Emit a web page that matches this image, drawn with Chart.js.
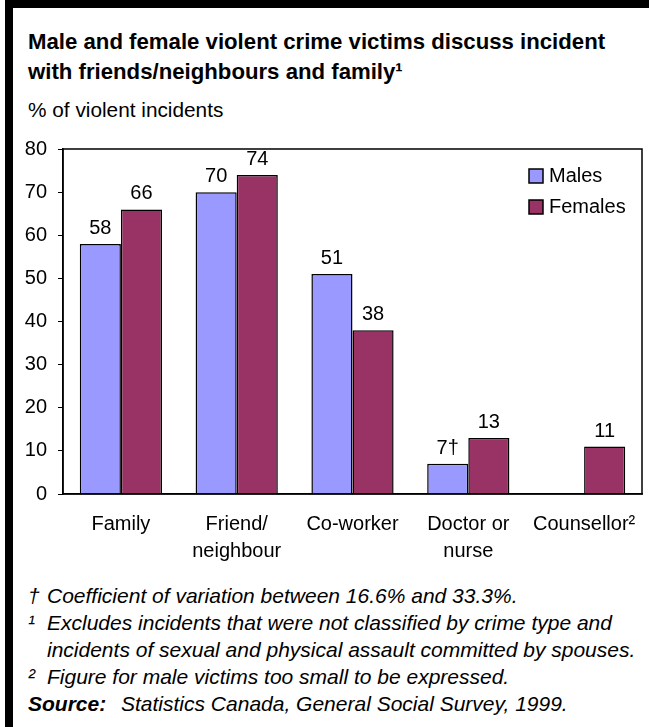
<!DOCTYPE html>
<html>
<head>
<meta charset="utf-8">
<script src="https://cdn.jsdelivr.net/npm/chart.js@4.4.1/dist/chart.umd.min.js"></script>
<style>
  body { margin: 0; background: #fff; font-family: "Liberation Sans", Arial, sans-serif; }
  #page { position: relative; width: 649px; height: 727px; overflow: hidden; }
  .bar-top { position: absolute; left: 5px; top: 0; width: 644px; height: 8px; background: #000; }
  .bar-left { position: absolute; left: 5px; top: 0; width: 8px; height: 727px; background: #000; }
  .title { position: absolute; left: 28px; top: 27px; font-weight: bold; font-size: 22.2px; line-height: 30px; color: #000; white-space: nowrap; }
  .subtitle { position: absolute; left: 28px; top: 98px; font-size: 20.8px; line-height: 24px; color: #000; }
  #wrap { position: absolute; left: 0; top: 126px; width: 649px; height: 444px; }
  .notes { position: absolute; left: 28px; top: 582px; font-size: 21px; font-style: italic; line-height: 27px; color: #000; }
  .notes div { white-space: nowrap; }
  .mark { display: inline-block; width: 19px; }
  .indent { padding-left: 19px; }
  .src { display: inline-block; width: 93px; }
</style>
</head>
<body>
<div id="page">
  <div class="bar-top"></div>
  <div class="bar-left"></div>
  <div class="title">Male and female violent crime victims discuss incident<br>with friends/neighbours and family¹</div>
  <div class="subtitle">% of violent incidents</div>
  <div id="wrap"><canvas id="barChart"></canvas></div>
  <div class="notes">
    <div><span class="mark">†</span>Coefficient of variation between 16.6% and 33.3%.</div>
    <div><span class="mark">¹</span>Excludes incidents that were not classified by crime type and</div>
    <div class="indent">incidents of sexual and physical assault committed by spouses.</div>
    <div><span class="mark">²</span>Figure for male victims too small to be expressed.</div>
    <div><b class="src">Source:</b>Statistics Canada, General Social Survey, 1999.</div>
  </div>
</div>

<script>
// ===== DATA =====
const categories = [['Family'], ['Friend/', 'neighbour'], ['Co-worker'], ['Doctor or', 'nurse'], ['Counsellor²']];
const males = [58, 70, 51, 7, null];
const females = [66, 74, 38, 13, 11];
const maleLabels = ['58', '70', '51', '7†', ''];
const femaleLabels = ['66', '74', '38', '13', '11'];
const yTicks = [0, 10, 20, 30, 40, 50, 60, 70, 80];

const COLORS = { males: '#9999ff', females: '#993366' };
const FONT = 'Liberation Sans, Arial, sans-serif';

// ===== PLUGINS =====
// frame around the plot area
const framePlugin = {
  id: 'frame',
  afterDatasetsDraw(chart) {
    const { ctx, chartArea: a } = chart;
    ctx.save();
    ctx.strokeStyle = '#000';
    ctx.lineWidth = 1.5;
    ctx.strokeRect(a.left, a.top, a.right - a.left, a.bottom - a.top);
    ctx.restore();
  }
};

// value labels above bars
const valueLabels = {
  id: 'valueLabels',
  afterDatasetsDraw(chart) {
    const { ctx } = chart;
    const texts = [maleLabels, femaleLabels];
    ctx.save();
    ctx.font = '20px ' + FONT;
    ctx.fillStyle = '#000';
    ctx.textAlign = 'center';
    ctx.textBaseline = 'alphabetic';
    chart.data.datasets.forEach((ds, di) => {
      chart.getDatasetMeta(di).data.forEach((bar, i) => {
        if (ds.data[i] == null) return;
        ctx.fillText(texts[di][i], bar.x, bar.y - 10);
      });
    });
    ctx.restore();
  }
};

// legend inside the plot, top right
const innerLegend = {
  id: 'innerLegend',
  afterDraw(chart) {
    const { ctx, chartArea: a } = chart;
    ctx.save();
    ctx.font = '20px ' + FONT;
    ctx.textBaseline = 'alphabetic';
    chart.data.datasets.forEach((ds, i) => {
      const x = a.right - 113;
      const y = a.top + 20 + i * 31;
      ctx.fillStyle = ds.backgroundColor;
      ctx.fillRect(x, y, 14, 14);
      ctx.strokeStyle = '#000';
      ctx.lineWidth = 1.5;
      ctx.strokeRect(x, y, 14, 14);
      ctx.fillStyle = '#000';
      ctx.fillText(ds.label, x + 20, y + 13);
    });
    ctx.restore();
  }
};

// ===== CHART =====
new Chart(document.getElementById('barChart'), {
  type: 'bar',
  data: {
    labels: categories,
    datasets: [
      { label: 'Males', data: males, backgroundColor: COLORS.males, borderColor: '#000', borderWidth: 1.5, borderSkipped: 'bottom' },
      { label: 'Females', data: females, backgroundColor: COLORS.females, borderColor: '#000', borderWidth: 1.5, borderSkipped: 'bottom' }
    ]
  },
  options: {
    responsive: true,
    maintainAspectRatio: false,
    animation: false,
    layout: { padding: { left: 0, right: 7, top: 15, bottom: 0 } },
    datasets: { bar: { categoryPercentage: 0.71, barPercentage: 1.0 } },
    plugins: { legend: { display: false }, tooltip: { enabled: false } },
    scales: {
      x: {
        grid: { display: false },
        border: { display: true, color: '#000', width: 1.5 },
        ticks: { color: '#000', font: { family: FONT, size: 20, lineHeight: 1.35 }, padding: 9, maxRotation: 0, autoSkip: false },
        afterFit(scale) { scale.height = 76; }
      },
      y: {
        min: 0,
        max: 80,
        afterBuildTicks(scale) { scale.ticks = yTicks.map(v => ({ value: v })); },
        grid: { drawOnChartArea: false, drawTicks: true, tickLength: 5, color: '#000', lineWidth: 1 },
        border: { display: true, color: '#000', width: 1.5 },
        ticks: { color: '#000', font: { family: FONT, size: 20 }, padding: 11 },
        afterFit(scale) { scale.width = 63; }
      }
    }
  },
  plugins: [framePlugin, valueLabels, innerLegend]
});
</script>
</body>
</html>
